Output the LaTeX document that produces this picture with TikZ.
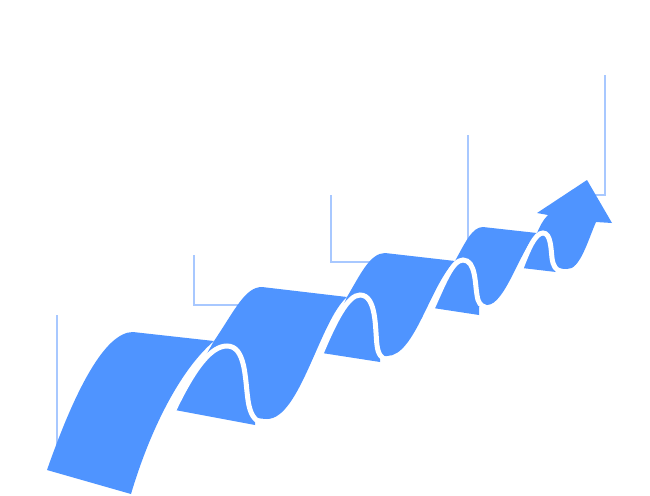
\documentclass[tikz,border=0pt]{standalone}
\begin{document}
\begin{tikzpicture}[x=1pt,y=-1pt,
  rib/.style={fill={rgb,255:red,79;green,148;blue,255}, draw=none},
  gap/.style={draw=white, line width=5pt, line cap=round},
  guide/.style={draw={rgb,255:red,168;green,200;blue,255}, line width=1.2pt}]
\useasboundingbox (0,0) rectangle (650,495);
% guide lines
\draw[guide] (57,315) -- (57,450);
\draw[guide] (194,255) -- (194,305) -- (245,305);
\draw[guide] (331,195) -- (331,262) -- (375,262);
\draw[guide] (468,135) -- (468,245);
\draw[guide] (605,75) -- (605,195) -- (594,195);
% ribbon
\fill[rib] (47,470) .. controls (75,390) and (105,332) .. (133,332) -- (214,341) .. controls (180,370) and (150,430) .. (131,494) -- cycle;
\fill[rib] (175,410) -- (214,341) .. controls (235,310) and (245,287) .. (262,287) -- (347,297) .. controls (320,320) and (300,419) .. (267,419) .. controls (261,419) and (257,417) .. (255,420) -- (255,425) -- cycle;
\draw[gap] (172,414) .. controls (195,365) and (212,346) .. (227,346) .. controls (246,346) and (245,380) .. (248,400) .. controls (250,415) and (255,420) .. (260,422);
\fill[rib] (322,353) -- (347,297) .. controls (360,275) and (370,253) .. (385,253) -- (455,261) .. controls (430,285) and (415,356) .. (387,356) .. controls (383,356) and (381,356) .. (380,358) -- (380,362) -- cycle;
\draw[gap] (320,356) .. controls (335,320) and (348,295) .. (360,295) .. controls (377,295) and (375,330) .. (377,345) .. controls (378,355) and (382,358) .. (386,360);
\fill[rib] (433,308) -- (455,261) .. controls (465,243) and (472,227) .. (483,227) -- (537,233) .. controls (520,250) and (505,305) .. (487,305) -- (479,307) -- (479,315) -- cycle;
\draw[gap] (431,311) .. controls (443,285) and (452,260) .. (463,260) .. controls (476,260) and (475,285) .. (477,295) .. controls (478,303) and (481,306) .. (485,307);
\fill[rib] (522,268) -- (537,233) .. controls (540,226) and (543,220) .. (548,215) -- (537,213) -- (587,180) -- (612,223) -- (596,222) .. controls (588,240) and (580,270) .. (567,269) .. controls (562,269) and (558,268) .. (556,268) -- (556,272) -- cycle;
\draw[gap] (520,271) .. controls (528,250) and (535,233) .. (543,233) .. controls (551,233) and (551,250) .. (552,258) .. controls (553,266) and (556,270) .. (560,271);
\end{tikzpicture}
\end{document}
